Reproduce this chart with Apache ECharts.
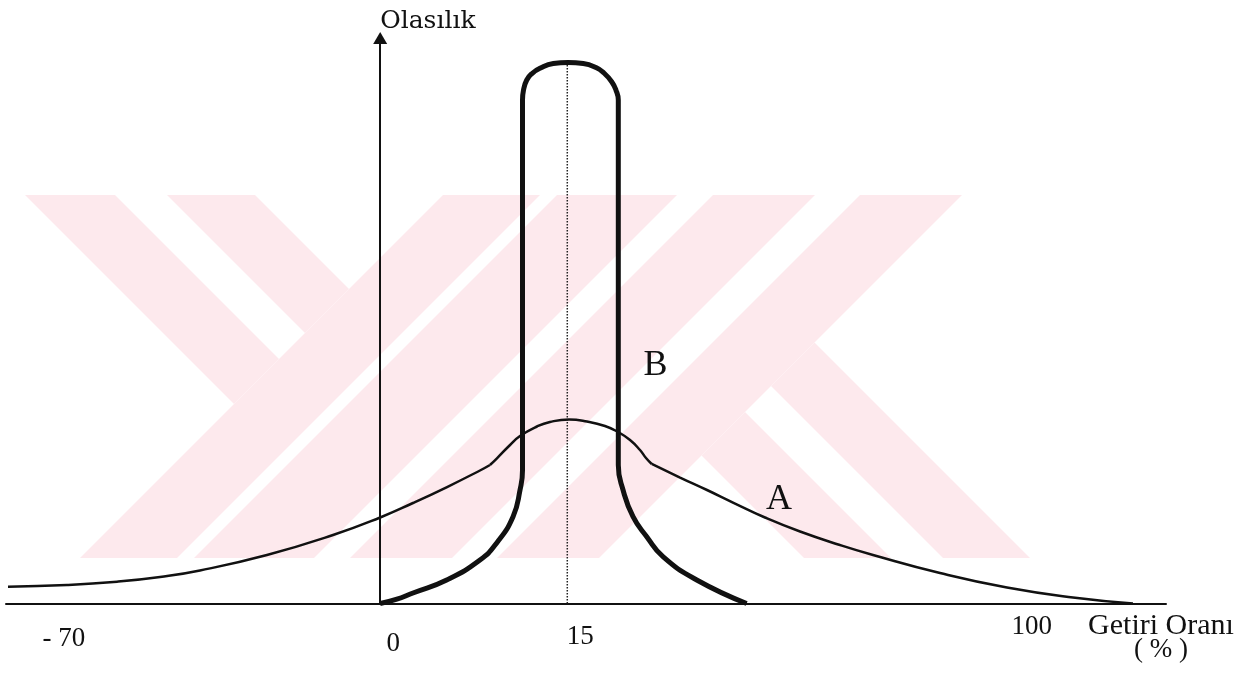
<!DOCTYPE html>
<html>
<head>
<meta charset="utf-8">
<title>Getiri Oranı - Olasılık</title>
<script src="https://cdn.jsdelivr.net/npm/echarts@6/dist/echarts.min.js"></script>
<style>
html,body{margin:0;padding:0;background:#fff;}
#chart{width:1256px;height:680px;}
</style>
</head>
<body>
<div id="chart"></div>
<script>

// x: getiri oranı (şematik eksen birimi), y: olasılık (göreli)
const xTicks = [-26.4, 0, 15, 51.2]
const xTickLabels = ['- 70', '0', '15', '100']

// A eğrisi: geniş dağılım, kırılma noktalarında üç parça
const aLeft = [[-29.84,2.97],[-25.11,3.27],[-21.10,3.85],[-17.65,4.69],[-14.45,5.84],[-9.08,8.58],[-3.78,12.11],[0,15.21],[2.63,17.77],[5.36,20.60],[8.00,23.52],[8.80,24.49]]
const aTop = [[8.80,24.49],[9.36,25.68],[10.41,28.03],[11.21,29.62],[12.57,31.30],[13.61,32.10],[15.14,32.54],[16.58,32.18],[18.02,31.39],[19.07,30.33],[20.03,28.91],[20.83,27.14],[21.31,25.73],[21.77,24.67]]
const aRight = [[21.77,24.67],[24.04,22.28],[26.20,20.07],[28.45,17.68],[30.85,15.21],[33.66,12.73],[36.86,10.34],[39.51,8.58],[44.88,5.39],[50.25,2.83],[55.54,1.06],[60.35,0]]

// B eğrisi: dar dağılım
const bCurve = [[0,0],[1.27,0.71],[2.63,1.86],[5.33,4.16],[8.00,7.69],[9.34,10.70],[10.65,15.35],[11.21,20.07],[11.41,23.61],[11.41,89.04],[11.49,90.80],[11.75,92.57],[12.17,93.72],[12.81,94.64],[13.88,95.49],[15.06,95.67],[16.28,95.49],[17.30,94.78],[17.94,93.81],[18.56,92.27],[18.90,90.80],[19.09,89.04],[19.09,24.49],[19.47,20.07],[20.27,15.35],[21.37,11.81],[22.67,8.28],[25.38,4.16],[29.38,0]]

// beklenen getiri (15) dikey çizgisi
const meanLine = [[15,0],[15,95.67]]

const curveNames = ['A', 'B']
const curveNamePos = [[31.97,18.3],[22.07,42.09]]

const serif = "'Liberation Serif', 'Times New Roman', serif"
const ink = '#111'

// arka plandaki soluk filigran (taranmış sayfadaki YÖK logosu), piksel cinsinden
function watermark(){
  const top = 195, bottom = 558
  const fill = '#fde9ed'
  const polys = []
  // "/" bantları: x+y aralığı
  const slash = [[638,735],[752,872],[908,1010],[1055,1157]]
  slash.forEach(([d1,d2]) => {
    polys.push([[d1-top,top],[d2-top,top],[d2-bottom,bottom],[d1-bottom,bottom]])
  })
  // "\" bantları: y-x aralığı
  const dl = 638
  ;[[80,170],[-60,28]].forEach(([c1,c2]) => {
    polys.push([[top-c2,top],[top-c1,top],[(dl-c1)/2,(dl+c1)/2],[(dl-c2)/2,(dl+c2)/2]])
  })
  const dr = 1157
  ;[[-472,-385],[-333,-246]].forEach(([c1,c2]) => {
    polys.push([[(dr-c1)/2,(dr+c1)/2],[(dr-c2)/2,(dr+c2)/2],[bottom-c2,bottom],[bottom-c1,bottom]])
  })
  return polys.map(p => ({
    type: 'polygon',
    shape: { points: p },
    style: { fill: fill },
    z: -10,
    silent: true
  }))
}

const tickStyle = ['m', 'z', 'f', 'h']

const chart = echarts.init(document.getElementById('chart'), null, { renderer: 'canvas' })

const thinLine = { color: ink, width: 2.5 }

chart.setOption({
  animation: false,
  backgroundColor: '#fff',
  graphic: watermark(),
  grid: {
    left: 6,
    right: 90,
    top: 38,
    bottom: 76.5,
    containLabel: false,
    outerBoundsMode: 'none'
  },
  xAxis: {
    type: 'value',
    min: -30,
    max: 63,
    name: '{t|Getiri Oranı}\n{p|( % )}',
    nameLocation: 'end',
    nameGap: -5,
    nameMoveOverlap: false,
    nameTextStyle: {
      align: 'center',
      verticalAlign: 'top',
      padding: [10, 0, 0, 0],
      color: ink,
      fontFamily: serif,
      rich: {
        t: { fontSize: 30, lineHeight: 26, fontFamily: serif, color: ink },
        p: { fontSize: 27, lineHeight: 20, fontFamily: serif, color: ink }
      }
    },
    axisLine: { show: true, onZero: true, lineStyle: { color: ink, width: 2 } },
    axisTick: { show: false },
    splitLine: { show: false },
    axisLabel: {
      customValues: xTicks,
      margin: 10,
      color: ink,
      fontSize: 27,
      fontFamily: serif,
      formatter: function (v) {
        let i = xTicks.findIndex(t => Math.abs(t - v) < 1e-6)
        if (i < 0) return ''
        return '{' + tickStyle[i] + '|' + xTickLabels[i] + '}'
      },
      rich: {
        m: { padding: [12, 0, 0, 26] },
        z: { padding: [17, 0, 0, 26] },
        f: { padding: [10, 0, 0, 26] },
        h: { padding: [0, 0, 0, 26] }
      }
    }
  },
  yAxis: {
    type: 'value',
    min: 0,
    max: 100,
    name: 'Olasılık',
    nameLocation: 'end',
    nameGap: 4,
    nameTextStyle: {
      align: 'left',
      verticalAlign: 'bottom',
      fontFamily: "'DejaVu Serif', serif",
      fontSize: 25,
      lineHeight: 25,
      color: ink
    },
    axisLine: {
      show: true,
      onZero: true,
      symbol: ['none', 'triangle'],
      symbolSize: [14, 12],
      lineStyle: { color: ink, width: 2 }
    },
    axisTick: { show: false },
    axisLabel: { show: false },
    splitLine: { show: false }
  },
  series: [
    {
      name: 'A',
      type: 'line',
      data: aLeft,
      smooth: 0.5,
      symbol: 'none',
      silent: true,
      lineStyle: thinLine,
      z: 3
    },
    {
      name: 'A',
      type: 'line',
      data: aTop,
      smooth: 0.5,
      symbol: 'none',
      silent: true,
      lineStyle: thinLine,
      z: 3
    },
    {
      name: 'A',
      type: 'line',
      data: aRight,
      smooth: 0.5,
      symbol: 'none',
      silent: true,
      lineStyle: thinLine,
      z: 3
    },
    {
      name: 'B',
      type: 'line',
      data: bCurve,
      smooth: 0.5,
      symbol: 'none',
      silent: true,
      lineStyle: { color: ink, width: 5, join: 'round' },
      z: 4
    },
    {
      name: 'ortalama',
      type: 'line',
      data: meanLine,
      symbol: 'none',
      silent: true,
      lineStyle: { color: '#222', width: 1.5, type: 'dotted' },
      z: 2
    },
    {
      name: 'etiketler',
      type: 'scatter',
      data: curveNamePos.map((p, i) => ({ name: curveNames[i], value: p })),
      symbolSize: 0,
      silent: true,
      itemStyle: { color: ink, opacity: 1 },
      label: {
        show: true,
        position: 'inside',
        formatter: '{b}',
        color: ink,
        opacity: 1,
        fontSize: 36,
        fontFamily: serif
      },
      z: 5
    }
  ]
})

</script>
</body>
</html>
